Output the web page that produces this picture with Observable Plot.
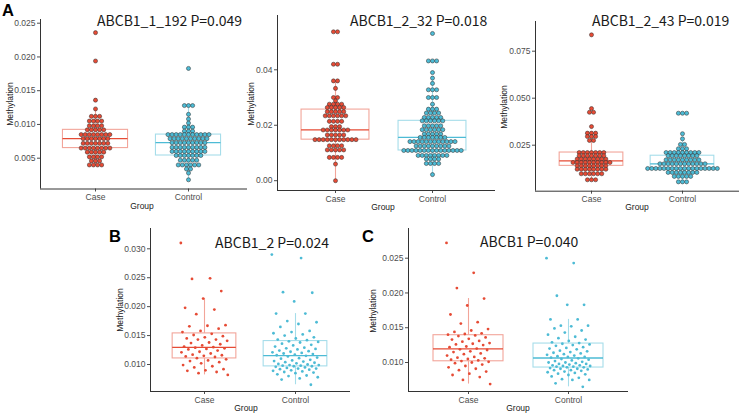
<!DOCTYPE html>
<html>
<head>
<meta charset="utf-8">
<script src="https://cdn.jsdelivr.net/npm/d3@7"></script>
<script src="https://cdn.jsdelivr.net/npm/@observablehq/plot@0.6"></script>
<style>
  body { margin: 0; background: #fff; }
  #root { position: relative; width: 740px; height: 413px; overflow: hidden; font-family: "Liberation Sans", Arial, sans-serif; }
  .title { position: absolute; font-family: "Noto Sans CJK SC", "Noto Sans", sans-serif; font-size: 14px; color: #1a1a1a; white-space: nowrap; line-height: 1; transform: translateY(-50%); }
  .tag { position: absolute; font-family: "Liberation Sans", Arial, sans-serif; font-weight: bold; font-size: 16.5px; line-height: 1; color: #000; }
  .ylab { position: absolute; font-size: 8.5px; color: #222; white-space: nowrap; line-height: 1; transform: translate(-50%, -50%) rotate(-90deg); }
  .xlab { position: absolute; font-size: 8.5px; color: #222; white-space: nowrap; line-height: 1; transform: translate(-50%, -50%); }
</style>
</head>
<body>
<div id="root"></div>
<script>
// ---------- data ----------
const groups = ["Case", "Control"];

// Panel A (dot plots): [methylation value of bin, number of samples in bin]
const a1Case = [[0.0236,1],[0.0194,1],[0.0136,1],[0.0123,1],[0.0112,3],[0.0105,4],[0.0098,4],[0.0092,5],[0.0085,8],[0.0079,7],[0.0072,7],[0.0065,8],[0.0059,5],[0.0052,4],[0.0046,3],[0.0040,4]];
const a1Control = [[0.0183,1],[0.0128,3],[0.0115,1],[0.0108,1],[0.0102,1],[0.0096,3],[0.0090,3],[0.0085,11],[0.0079,10],[0.0073,9],[0.0066,9],[0.0060,9],[0.0054,7],[0.0047,5],[0.0040,6],[0.0034,2],[0.0028,1],[0.0018,1]];
const a2Case = [[0.0537,2],[0.0420,2],[0.0360,2],[0.0333,1],[0.0300,2],[0.0288,1],[0.0276,4],[0.0264,5],[0.0249,5],[0.0234,6],[0.0214,4],[0.0195,3],[0.0183,7],[0.0165,5],[0.0148,11],[0.0126,4],[0.0111,5],[0.0084,4],[0.0060,1],[0.0000,1]];
const a2Control = [[0.0531,1],[0.0432,3],[0.0390,1],[0.0370,1],[0.0351,1],[0.0328,3],[0.0300,3],[0.0276,1],[0.0258,3],[0.0244,4],[0.0228,5],[0.0216,6],[0.0198,5],[0.0184,6],[0.0168,5],[0.0156,7],[0.0141,12],[0.0125,9],[0.0109,15],[0.0091,8],[0.0078,4],[0.0062,4],[0.0022,1]];
const a3Case = [[0.0837,1],[0.0445,1],[0.0425,2],[0.0349,1],[0.0314,3],[0.0296,3],[0.0275,2],[0.0211,7],[0.0194,7],[0.0176,8],[0.0158,10],[0.0140,8],[0.0122,8],[0.0098,6],[0.0066,3]];
const a3Control = [[0.0420,3],[0.0311,1],[0.0284,1],[0.0254,2],[0.0231,3],[0.0211,9],[0.0194,8],[0.0172,9],[0.0151,12],[0.0126,18],[0.0105,8],[0.0084,5],[0.0055,3]];

// Panels B and C (jittered points): one value per sample
const bCase = [0.0310,0.0249,0.0248,0.0227,0.0214,0.0198,0.0195,0.0187,0.0168,0.0167,0.0166,0.0162,0.0158,0.0156,
  0.0153,0.0151,0.0149,0.0147,0.0145,0.0143,0.0143,0.0141,0.0138,0.0137,0.0135,0.0133,0.0131,0.0130,
  0.0129,0.0128,0.0127,0.0126,0.0124,0.0122,0.0121,0.0119,0.0117,0.0116,0.0115,0.0114,0.0113,0.0111,
  0.0109,0.0107,0.0106,0.0104,0.0102,0.0099,0.0097,0.0095,0.0092,0.0090,0.0089,0.0087,0.0085,0.0082];
const bControl = [0.0290,0.0284,0.0225,0.0224,0.0209,
  0.0188,0.0188,0.0175,0.0173,0.0170,0.0165,0.0158,0.0156,0.0154,0.0152,0.0150,0.0147,0.0145,0.0143,0.0142,
  0.0140,0.0139,0.0138,0.0136,0.0134,0.0133,0.0131,0.0129,0.0128,0.0127,0.0126,0.0124,0.0123,0.0122,0.0121,0.0120,0.0119,0.0118,0.0117,0.0116,
  0.0115,0.0114,0.0112,0.0111,0.0110,0.0108,0.0107,0.0106,0.0105,0.0104,0.0103,0.0102,0.0101,0.0100,0.0099,0.0099,0.0098,0.0098,0.0097,0.0097,
  0.0096,0.0095,0.0094,0.0093,0.0093,0.0092,0.0091,0.0090,0.0089,0.0088,0.0087,0.0086,0.0085,0.0083,0.0081,0.0080,0.0078,0.0076,0.0074,0.0065];
const cCase = [0.0272,0.0229,0.0207,0.0192,0.0182,0.0169,0.0158,0.0156,0.0148,0.0146,0.0144,0.0142,0.0141,0.0140,
  0.0139,0.0138,0.0136,0.0134,0.0133,0.0131,0.0130,0.0128,0.0127,0.0126,0.0125,0.0123,0.0122,0.0120,
  0.0119,0.0118,0.0116,0.0115,0.0113,0.0112,0.0110,0.0108,0.0107,0.0106,0.0105,0.0104,0.0103,0.0102,
  0.0101,0.0100,0.0099,0.0097,0.0095,0.0093,0.0091,0.0089,0.0087,0.0084,0.0082,0.0079,0.0075,0.0069];
const cControl = [0.0250,0.0243,0.0196,0.0183,0.0183,
  0.0162,0.0162,0.0153,0.0153,0.0152,0.0149,0.0146,0.0143,0.0140,0.0137,0.0135,0.0133,0.0131,0.0129,0.0128,
  0.0127,0.0126,0.0125,0.0124,0.0122,0.0121,0.0120,0.0119,0.0117,0.0116,0.0115,0.0114,0.0113,0.0112,0.0111,0.0110,0.0109,0.0108,0.0108,0.0107,
  0.0106,0.0105,0.0104,0.0103,0.0102,0.0101,0.0100,0.0100,0.0099,0.0098,0.0098,0.0097,0.0096,0.0096,0.0095,0.0095,0.0094,0.0094,0.0093,0.0093,
  0.0092,0.0091,0.0091,0.0090,0.0089,0.0089,0.0088,0.0087,0.0086,0.0085,0.0084,0.0083,0.0082,0.0080,0.0078,0.0076,0.0075,0.0075,0.0070,0.0065];

// tick values
const a1Ticks = [0.005, 0.010, 0.015, 0.020, 0.025];
const a2Ticks = [0.00, 0.02, 0.04];
const a3Ticks = [0.025, 0.050, 0.075];
const bTicks = [0.010, 0.015, 0.020, 0.025, 0.030];
const cTicks = [0.010, 0.015, 0.020, 0.025];

// titles
const a1Title = "ABCB1_1_192 P=0.049";
const a2Title = "ABCB1_2_32 P=0.018";
const a3Title = "ABCB1_2_43 P=0.019";
const bTitle = "ABCB1_2 P=0.024";
const cTitle = "ABCB1 P=0.040";

// ---------- style / layout ----------
const fillColor = ["#E64B35", "#4DBBD5"];
const lightColor = ["#F2A59A", "#A6DDEA"];
const axisColor = "#333333";

const panels = [
  {kind: "dot", data: [a1Case, a1Control], ticks: a1Ticks, fmt: ".3f", title: a1Title, tag: "A",
   l: 40, r: 247, t: 19, b: 188.5, yRef: [[0.025, 22.7], [0.005, 157.7]], xAt: [95, 188],
   titleX: 97, titleY: 20, tagX: 2, tagY: 2, ylabX: 10, ylabY: 104, xlabX: 142, xlabY: 206},
  {kind: "dot", data: [a2Case, a2Control], ticks: a2Ticks, fmt: ".2f", title: a2Title,
   l: 277, r: 495, t: 15, b: 190, yRef: [[0.04, 69.3], [0.00, 180.2]], xAt: [335, 432],
   titleX: 350, titleY: 20, ylabX: 250.5, ylabY: 104, xlabX: 383, xlabY: 206.5},
  {kind: "dot", data: [a3Case, a3Control], ticks: a3Ticks, fmt: ".3f", title: a3Title,
   l: 535, r: 739, t: 21, b: 190.7, yRef: [[0.075, 50.7], [0.025, 144.7]], xAt: [591, 682],
   titleX: 592, titleY: 20, ylabX: 504, ylabY: 107, xlabX: 637, xlabY: 207},
  {kind: "jitter", data: [bCase, bControl], ticks: bTicks, fmt: ".3f", title: bTitle, tag: "B", jit: 0.26,
   l: 150, r: 350, t: 228, b: 391, yRef: [[0.030, 248.3], [0.010, 364]], xAt: [204, 295],
   titleX: 215, titleY: 241.5, tagX: 109, tagY: 228, ylabX: 120, ylabY: 310, xlabX: 246, xlabY: 408},
  {kind: "jitter", data: [cCase, cControl], ticks: cTicks, fmt: ".3f", title: cTitle, tag: "C", jit: 0.22,
   l: 408, r: 628, t: 228, b: 391, yRef: [[0.025, 257.7], [0.010, 362]], xAt: [468, 568],
   titleX: 480, titleY: 241, tagX: 362, tagY: 228, ylabX: 373, ylabY: 311, xlabX: 518, xlabY: 408}
];

const root = document.getElementById("root");

function boxStats(values, g) {
  const s = values.slice().sort(d3.ascending);
  const q1 = d3.quantile(s, 0.25), med = d3.quantile(s, 0.5), q3 = d3.quantile(s, 0.75);
  const iqr = q3 - q1;
  const lo = d3.min(s.filter(v => v >= q1 - 1.5 * iqr));
  const hi = d3.max(s.filter(v => v <= q3 + 1.5 * iqr));
  return {g, q1, med, q3, lo, hi};
}

function addDiv(cls, text, x, y) {
  const d = document.createElement("div");
  d.className = cls;
  d.textContent = text;
  d.style.left = x + "px";
  d.style.top = y + "px";
  root.appendChild(d);
}

const HALF = 0.35;     // half box width (x units)
const DOT_D = 4.1;     // dot-plot stacking step, px

for (const p of panels) {
  const ML = 34, MR = 4, MT = 10, MB = 24;
  const [[v1, p1], [v2, p2]] = p.yRef;
  const ppy = (p2 - p1) / (v1 - v2);
  const yTop = v1 + (p1 - p.t) / ppy;
  const yBot = v2 - (p.b - p2) / ppy;
  const ppx = p.xAt[1] - p.xAt[0];
  const xdom = [1 - (p.xAt[0] - p.l) / ppx, 2 + (p.r - p.xAt[1]) / ppx];

  const marks = [
    Plot.ruleX([xdom[0]], {stroke: axisColor, strokeWidth: 1}),
    Plot.ruleY([yBot], {stroke: axisColor, strokeWidth: 1})
  ];

  p.data.forEach((series, gi) => {
    const g = gi + 1;
    let pts;
    if (p.kind === "dot") {
      pts = [];
      for (const [v, n] of series) for (let k = 0; k < n; k++) pts.push({g, v, k, n});
    } else {
      pts = series.map((v, i) => ({g, v, i}));
    }
    const st = boxStats(pts.map(d => d.v), g);
    marks.push(
      Plot.ruleX([st], {x: "g", y1: "lo", y2: "q1", stroke: lightColor[gi], strokeWidth: 1.1}),
      Plot.ruleX([st], {x: "g", y1: "q3", y2: "hi", stroke: lightColor[gi], strokeWidth: 1.1}),
      Plot.rect([st], {x1: d => d.g - HALF, x2: d => d.g + HALF, y1: "q1", y2: "q3", fill: "none", stroke: lightColor[gi], strokeWidth: 1.1}),
      Plot.ruleY([st], {y: "med", x1: d => d.g - HALF, x2: d => d.g + HALF, stroke: fillColor[gi], strokeWidth: 1.3})
    );
    if (p.kind === "dot") {
      marks.push(Plot.dot(pts, {
        x: d => d.g + (d.k - (d.n - 1) / 2) * DOT_D / ppx,
        y: "v", r: 2.05, fill: fillColor[gi], stroke: "#2b2b2b", strokeWidth: 0.5
      }));
    } else {
      marks.push(Plot.dot(pts, {
        x: d => d.g + (((d.i * 0.6180339887) % 1) - 0.5) * 2 * p.jit,
        y: "v", r: 1.4, fill: fillColor[gi], stroke: "none"
      }));
    }
  });

  const svg = Plot.plot({
    width: p.r - p.l + ML + MR,
    height: p.b - p.t + MT + MB,
    marginLeft: ML, marginRight: MR, marginTop: MT, marginBottom: MB,
    x: {domain: xdom, ticks: [1, 2], tickFormat: i => groups[i - 1], tickSize: 3, tickPadding: 2, label: null},
    y: {domain: [yBot, yTop], ticks: p.ticks, tickFormat: d3.format(p.fmt), tickSize: 3, tickPadding: 2, label: null},
    style: {background: "transparent", color: "#4d4d4d", fontSize: "8.5px", fontFamily: "Liberation Sans, Arial, sans-serif", overflow: "visible"},
    marks
  });
  svg.style.position = "absolute";
  svg.style.left = (p.l - ML) + "px";
  svg.style.top = (p.t - MT) + "px";
  root.appendChild(svg);

  addDiv("title", p.title, p.titleX, p.titleY);
  if (p.tag) addDiv("tag", p.tag, p.tagX, p.tagY);
  addDiv("ylab", "Methylation", p.ylabX, p.ylabY);
  addDiv("xlab", "Group", p.xlabX, p.xlabY);
}
</script>
</body>
</html>
